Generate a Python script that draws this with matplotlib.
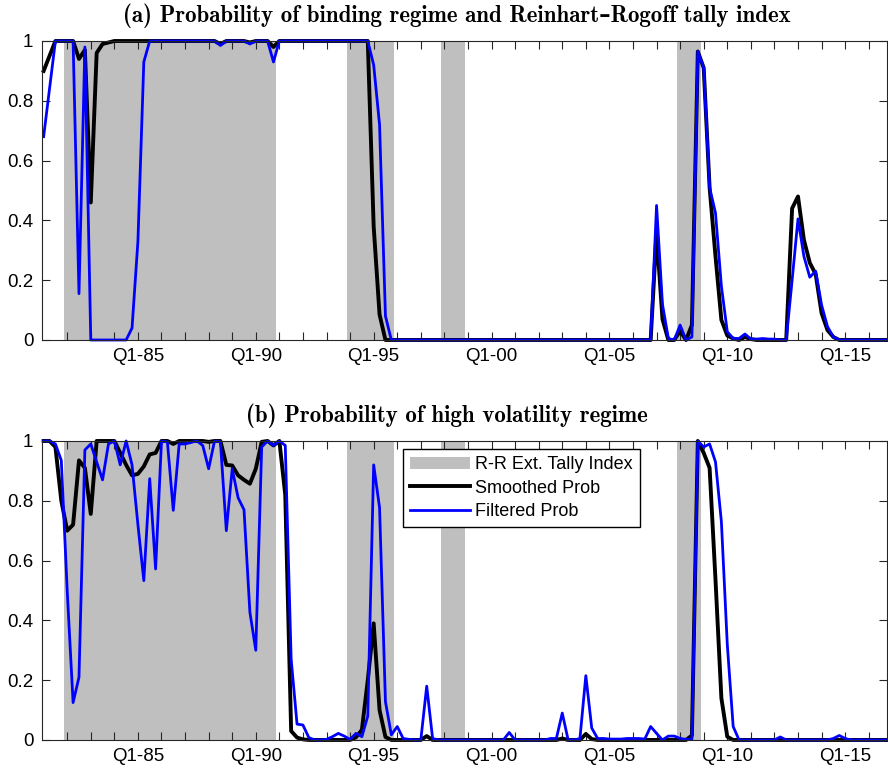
import numpy as np
import matplotlib
matplotlib.use("Agg")
import matplotlib.pyplot as plt
from matplotlib.patches import Patch
from matplotlib.lines import Line2D

plt.rcParams['font.family'] = ['Liberation Sans', 'DejaVu Sans']

# quarterly dates, 1981Q1 .. 2016Q4
years = np.arange(1981, 2017)
dates = (years[:, None] + np.array([0.0, 0.25, 0.5, 0.75])[None, :]).ravel()

# R-R tally index episodes (start, end)
rr_start = [1981.875, 1993.875, 1997.875, 2007.875]
rr_end = [1990.875, 1995.875, 1998.875, 2008.875]

zero = [0, 0, 0, 0]
one = [1, 1, 1, 1]

# (a) binding regime, one row per year
bind_smooth = [
    [0.90, 0.95, 1.00, 1.00],   # 1981
    [1.00, 1.00, 0.94, 0.97],
    [0.46, 0.96, 0.99, 0.995],
    one, one, one, one,         # 1984-87
    [1, 1, 0.99, 1],            # 1988
    [1, 1, 1, 0.995],
    [1, 1, 1, 0.98],            # 1990
    one, one, one, one,         # 1991-94
    [0.38, 0.085, 0.0, 0.0],    # 1995
    zero, zero, zero, zero, zero, zero, zero, zero, zero, zero, zero,  # 1996-2006
    [0.36, 0.07, 0.0, 0.0],     # 2007
    [0.03, 0.0, 0.05, 0.965],
    [0.91, 0.51, 0.28, 0.067],
    [0.015, 0.005, 0.0, 0.01],  # 2010
    [0.003, 0, 0, 0],
    [0, 0, 0, 0.44],
    [0.48, 0.335, 0.258, 0.22],
    [0.09, 0.033, 0.01, 0.0],
    zero, zero,                 # 2015-16
]
bind_filter = [
    [0.68, 0.84, 1.00, 1.00],   # 1981
    [1.00, 1.00, 0.155, 0.98],
    [0, 0, 0, 0],
    [0, 0, 0, 0.04],
    [0.33, 0.93, 1.0, 1.0],     # 1985
    one, one,
    [1, 1, 0.985, 1],           # 1988
    [1, 1, 1, 0.99],
    [1, 1, 1, 0.93],            # 1990
    one, one, one, one,
    [0.92, 0.72, 0.08, 0.0],    # 1995
    zero, zero, zero, zero, zero, zero, zero, zero, zero, zero, zero,
    [0.45, 0.12, 0.005, 0.0],   # 2007
    [0.05, 0.0, 0.01, 0.965],
    [0.91, 0.51, 0.425, 0.18],
    [0.028, 0.005, 0.005, 0.02],
    [0.003, 0.003, 0.005, 0.003],
    [0.003, 0.0, 0.0, 0.2],
    [0.405, 0.28, 0.21, 0.23],
    [0.117, 0.045, 0.01, 0.0],
    zero, zero,
]

# (b) high volatility regime
vol_smooth = [
    [1.0, 1.0, 0.98, 0.80],     # 1981
    [0.70, 0.72, 0.935, 0.91],
    [0.756, 1.0, 1.0, 1.0],
    [1.0, 0.96, 0.92, 0.885],
    [0.89, 0.915, 0.955, 0.96], # 1985
    [1.0, 1.0, 0.99, 1.0],
    one,
    [0.997, 1.0, 1.0, 0.92],
    [0.918, 0.885, 0.87, 0.857],
    [0.907, 0.997, 1.0, 0.985], # 1990
    [1.0, 0.82, 0.03, 0.008],
    [0.002, 0, 0, 0],
    zero,
    [0, 0.009, 0.034, 0.2],
    [0.39, 0.1, 0.01, 0.0],     # 1995
    zero,
    [0, 0.013, 0, 0],
    zero, zero, zero, zero, zero,
    [0.005, 0, 0, 0],           # 2003
    [0.02, 0.003, 0, 0],
    zero, zero, zero,
    [0, 0, 0.015, 1.0],         # 2008
    [0.96, 0.91, 0.536, 0.14],
    [0.011, 0, 0, 0],
    zero, zero, zero, zero, zero, zero,
]
vol_filter = [
    [1.0, 1.0, 0.99, 0.935],    # 1981
    [0.5, 0.125, 0.21, 0.97],
    [0.99, 0.93, 0.87, 0.99],
    [1.0, 0.92, 1.0, 0.92],
    [0.72, 0.533, 0.874, 0.572],# 1985
    [1.0, 0.997, 0.768, 0.99],
    [0.99, 0.995, 1.0, 0.985],
    [0.907, 1.0, 0.997, 0.70],
    [0.907, 0.81, 0.77, 0.427],
    [0.30, 0.98, 1.0, 0.985],   # 1990
    [1.0, 0.985, 0.27, 0.053],
    [0.05, 0.008, 0, 0],
    [0.002, 0.011, 0.022, 0.013],
    [0.002, 0.022, 0.011, 0.08],
    [0.92, 0.777, 0.128, 0.017],# 1995
    [0.045, 0.005, 0.002, 0.0],
    [0, 0.18, 0.005, 0],
    zero, zero,
    [0, 0, 0, 0.025],           # 2000
    zero,
    [0, 0, 0.005, 0.005],
    [0.09, 0.0, 0.0, 0.005],
    [0.215, 0.04, 0.005, 0.005],
    [0.003, 0.003, 0.003, 0.005],  # 2005
    [0.005, 0.005, 0.003, 0.045],
    [0.022, 0.0, 0.013, 0.013],
    [0.005, 0.002, 0.002, 1.0],
    [0.98, 0.99, 0.93, 0.73],
    [0.32, 0.045, 0, 0],        # 2010
    zero,
    [0, 0.01, 0, 0],
    zero,
    [0, 0, 0.005, 0.015],
    [0.005, 0, 0, 0],
    zero,
]

titles = [r"(a) Probability of binding regime and Reinhart–Rogoff tally index",
          r"(b) Probability of high volatility regime"]
title_x = [0.514, 0.503]
title_y = [1 - 22 / 775, 1 - 422 / 775]

fig = plt.figure(figsize=(8.88, 7.75), dpi=100)
ax1 = fig.add_axes([0.047, 0.5613, 0.952, 0.3858])
ax2 = fig.add_axes([0.047, 0.0452, 0.952, 0.3858])

panels = [(ax1, bind_smooth, bind_filter), (ax2, vol_smooth, vol_filter)]
for k, (ax, sm, fi) in enumerate(panels):
    for s, e in zip(rr_start, rr_end):
        ax.axvspan(s, e, color='#bfbfbf', lw=0, zorder=1)
    ax.plot(dates, np.ravel(sm), color='black', lw=2.8, zorder=3, clip_on=False)
    ax.plot(dates, np.ravel(fi), color='#0000ff', lw=2.0, zorder=4, clip_on=False)
    ax.set_xlim(1980.92, 2016.78)
    ax.set_ylim(0, 1)
    ax.set_yticks([0, 0.2, 0.4, 0.6, 0.8, 1])
    ax.set_yticklabels(['0', '0.2', '0.4', '0.6', '0.8', '1'])
    ticks = np.arange(1982, 2017)
    ax.set_xticks(ticks)
    ax.set_xticklabels(['Q1-%02d' % (t % 100) if t % 5 == 0 else '' for t in ticks])
    ax.tick_params(direction='in', length=6, width=0.8, color='#262626',
                   top=True, right=True, labelsize=13.5, pad=6)
    for sp in ax.spines.values():
        sp.set_color('#262626')
        sp.set_linewidth(0.8)
        sp.set_zorder(5)
    fig.text(title_x[k], title_y[k], titles[k], ha='center', va='baseline',
             fontsize=16.5, family=['cmb10', 'DejaVu Serif'], fontweight='bold')

handles = [Patch(facecolor='#bfbfbf', edgecolor='none'),
           Line2D([], [], color='black', lw=2.8),
           Line2D([], [], color='#0000ff', lw=2.0)]
ax2.legend(handles, ['R-R Ext. Tally Index', 'Smoothed Prob', 'Filtered Prob'],
           loc='upper left', bbox_to_anchor=(0.4274, 0.973), borderaxespad=0,
           fontsize=13, fancybox=False, framealpha=1, edgecolor='black',
           handlelength=3.3, handletextpad=0.3, labelspacing=0.35, borderpad=0.4)

plt.savefig("out.png", dpi=100)
